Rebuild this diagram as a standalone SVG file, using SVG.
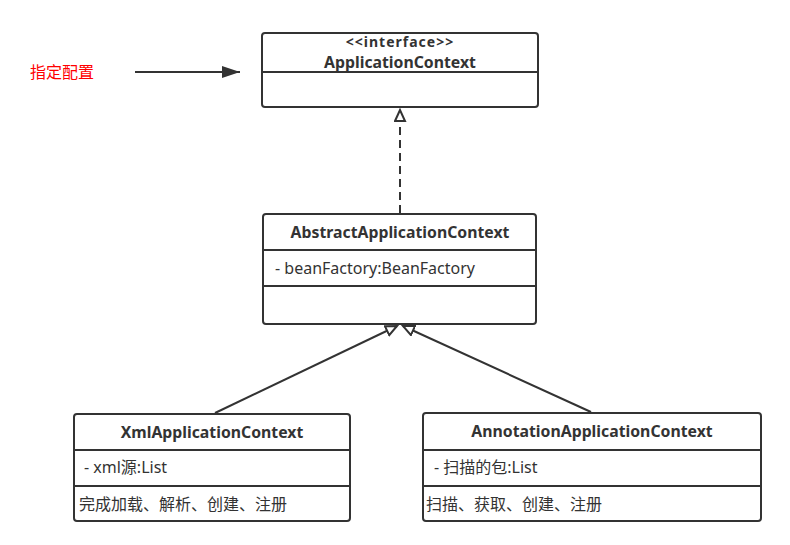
<svg xmlns="http://www.w3.org/2000/svg" width="790" height="545" viewBox="0 0 790 545">
<defs>
<marker id="hollow" markerWidth="14" markerHeight="14" refX="12" refY="6" orient="auto" markerUnits="userSpaceOnUse">
<path d="M1,1 L12,6 L1,11 Z" fill="#fff" stroke="#333" stroke-width="2"/>
</marker>
<marker id="filled" markerWidth="20" markerHeight="14" refX="18" refY="6" orient="auto" markerUnits="userSpaceOnUse">
<path d="M0,0 L18,6 L0,12 Z" fill="#333"/>
</marker>
</defs>
<style>
.box{fill:#fff;stroke:#333;stroke-width:2}
.div{stroke:#333;stroke-width:2}
.t{font-family:"Noto Sans","Noto Sans CJK SC",sans-serif;fill:#333}
.title{font-size:15.8px;font-weight:bold;text-anchor:middle}
.attr{font-size:16px}
.cjk{font-size:16px}
.conn{stroke:#333;stroke-width:2;fill:none}
</style>
<rect width="790" height="545" fill="#fff"/>
<g id="label">
<text x="30" y="78" class="t" style="font-size:16px;fill:#ff0000;font-family:'Noto Sans CJK SC',sans-serif">指定配置</text>
</g>
<g id="ApplicationContext">
<rect class="box" x="262" y="33" width="276" height="74" rx="3"/>
<line class="div" x1="262" y1="72" x2="538" y2="72"/>
<text class="t title" x="400" y="47" style="font-size:14px;letter-spacing:1px">&lt;&lt;interface&gt;&gt;</text>
<text class="t title" x="400" y="68">ApplicationContext</text>
</g>
<g id="AbstractApplicationContext">
<rect class="box" x="263" y="214" width="273" height="110" rx="3"/>
<line class="div" x1="263" y1="250" x2="536" y2="250"/>
<line class="div" x1="263" y1="286" x2="536" y2="286"/>
<text class="t title" x="400" y="238">AbstractApplicationContext</text>
<text class="t attr" x="275" y="274">- beanFactory:BeanFactory</text>
</g>
<g id="XmlApplicationContext">
<rect class="box" x="74" y="414" width="276" height="107" rx="3"/>
<line class="div" x1="74" y1="450" x2="350" y2="450"/>
<line class="div" x1="74" y1="486" x2="350" y2="486"/>
<text class="t title" x="212" y="438">XmlApplicationContext</text>
<text class="t attr" x="84" y="473">- xml源:List</text>
<text class="t cjk" x="79" y="510">完成加载、解析、创建、注册</text>
</g>
<g id="AnnotationApplicationContext">
<rect class="box" x="423" y="413" width="338" height="108" rx="3"/>
<line class="div" x1="423" y1="450" x2="761" y2="450"/>
<line class="div" x1="423" y1="486" x2="761" y2="486"/>
<text class="t title" x="592" y="437">AnnotationApplicationContext</text>
<text class="t attr" x="434" y="473">- 扫描的包:List</text>
<text class="t cjk" x="426" y="510">扫描、获取、创建、注册</text>
</g>
<g id="connectors">
<line class="conn" x1="135" y1="72" x2="240" y2="72" marker-end="url(#filled)"/>
<line class="conn" x1="400" y1="213" x2="400" y2="110" stroke-dasharray="8,5" marker-end="url(#hollow)"/>
<line class="conn" x1="215" y1="413" x2="397" y2="326" marker-end="url(#hollow)"/>
<line class="conn" x1="591" y1="412" x2="403" y2="326" marker-end="url(#hollow)"/>
</g>
</svg>
